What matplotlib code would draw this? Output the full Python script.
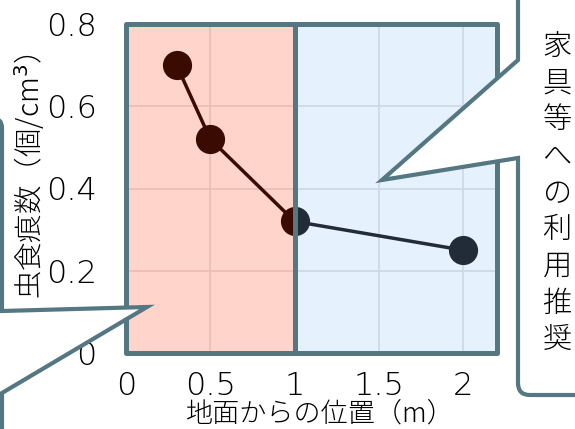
import numpy as np
import matplotlib.pyplot as plt
from matplotlib.patches import Rectangle, PathPatch
from matplotlib.path import Path

plt.rcParams['font.family'] = ['Noto Sans CJK JP', 'DejaVu Sans']

# data
pos_low = [0.3, 0.5, 1.0]
dens_low = [0.70, 0.52, 0.32]
pos_high = [1.0, 2.0]
dens_high = [0.32, 0.25]

x_ticks = [0, 0.5, 1, 1.5, 2]
x_ticklabels = ['0', '0.5', '1', '1.5', '2']
y_ticks = [0, 0.2, 0.4, 0.6, 0.8]
y_ticklabels = ['0', '0.2', '0.4', '0.6', '0.8']
grid_x = [0.5, 1.5, 2.0]
grid_y = [0.2, 0.4, 0.6]
split = 1.0
x_max = 2.2
y_max = 0.8

xlabel = '地面からの位置（m）'
ylabel = '虫食痕数（個/cm$^3$）'
note = '家具等への利用推奨'

# colours
border = '#547781'
pink = '#ffd4ca'
blue = '#e6f1fe'
pink_grid = '#ebbdb3'
blue_grid = '#cbd7e4'
brown = '#3a0b00'
navy = '#222c38'

W, H = 575, 429
fig = plt.figure(figsize=(W / 100, H / 100), dpi=100)
ax = fig.add_axes([126 / W, 1 - 353 / H, (497 - 126) / W, (353 - 24) / H])
ax.set_xlim(0, x_max)
ax.set_ylim(0, y_max)
for s in ax.spines.values():
    s.set_visible(False)

# region fills
low_face = Rectangle((0, 0), split, y_max, fc=pink, ec='none', zorder=0)
high_face = Rectangle((split, 0), x_max - split, y_max, fc=blue, ec='none', zorder=0)
ax.add_patch(low_face)
ax.add_patch(high_face)

# grid per region
for gy in grid_y:
    ax.plot([0, split], [gy, gy], color=pink_grid, lw=1.2, zorder=1)
    ax.plot([split, x_max], [gy, gy], color=blue_grid, lw=1.2, zorder=1)
for gx in grid_x:
    c = pink_grid if gx < split else blue_grid
    ax.plot([gx, gx], [0, y_max], color=c, lw=1.2, zorder=1)

# series, each clipped to its region
l1, = ax.plot(pos_low, dens_low, '-o', color=brown, lw=2.5, ms=20, zorder=3)
l1.set_clip_path(low_face)
l2, = ax.plot(pos_high, dens_high, '-o', color=navy, lw=2.5, ms=20, zorder=3)
l2.set_clip_path(high_face)

# region frames on top
for r in [(0, split), (split, x_max)]:
    ax.add_patch(Rectangle((r[0], 0), r[1] - r[0], y_max, fill=False, ec=border,
                           lw=3.6, joinstyle='round', zorder=5, clip_on=False))

ax.set_xticks(x_ticks)
ax.set_xticklabels(x_ticklabels, family='DejaVu Sans', weight='light')
ax.set_yticks(y_ticks)
ax.set_yticklabels(y_ticklabels, family='DejaVu Sans', weight='light')
ax.tick_params(length=0, labelsize=23, colors='black')
ax.tick_params(axis='y', pad=21)
ax.tick_params(axis='x', pad=13)

ax.set_xlabel(xlabel, fontsize=19.5, va='center', weight='light')
ax.xaxis.set_label_coords((320 - 126) / 371, (353 - 413) / 329)
ax.set_ylabel(ylabel, fontsize=20.5, va='center', weight='light')
ax.yaxis.set_label_coords((30 - 126) / 371, (353 - 176) / 329)


def px(x, y):
    return (x / W, 1 - y / H)


# right callout
verts = [(518, -20), (518, 60), (382, 180), (518, 158), (518, 383), (518, 395),
         (530, 395), (600, 395), (600, -20), (518, -20)]
codes = [Path.MOVETO, Path.LINETO, Path.LINETO, Path.LINETO, Path.LINETO,
         Path.CURVE3, Path.CURVE3, Path.LINETO, Path.LINETO, Path.CLOSEPOLY]
fig.add_artist(PathPatch(Path([px(*v) for v in verts], codes), fc='white', ec=border,
                         lw=3, transform=fig.transFigure, zorder=1))

# left callout
verts = [(-30, 118), (-8, 118), (2, 118), (2, 128), (2, 311), (147, 307), (2, 393),
         (2, 450), (-30, 450), (-30, 118)]
codes = [Path.MOVETO, Path.LINETO, Path.CURVE3, Path.CURVE3, Path.LINETO, Path.LINETO,
         Path.LINETO, Path.LINETO, Path.LINETO, Path.CLOSEPOLY]
fig.add_artist(PathPatch(Path([px(*v) for v in verts], codes), fc='white', ec=border,
                         lw=3, transform=fig.transFigure, zorder=1))

# vertical note in the right callout
for i, ch in enumerate(note):
    fig.text(*px(557, 47 + i * 36.6), ch, ha='center', va='center', fontsize=21,
             weight='light', zorder=4)

fig.savefig('out.png', dpi=100)
